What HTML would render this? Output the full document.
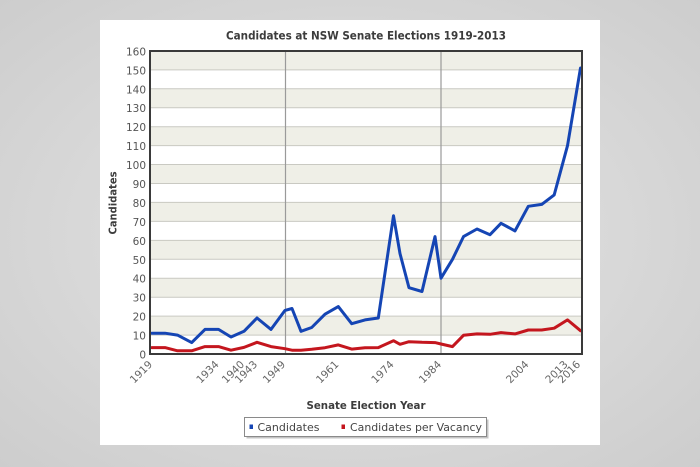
<!DOCTYPE html>
<html>
<head>
<meta charset="utf-8">
<style>
  html,body{margin:0;padding:0;}
  body{width:700px;height:467px;overflow:hidden;
    background:radial-gradient(ellipse at 50% 50%, #e3e3e3 0%, #d8d8d8 55%, #cdcdcd 100%);}
  svg{display:block;}
  text{font-family:"DejaVu Sans","Liberation Sans",sans-serif;}
</style>
</head>
<body>
<svg width="700" height="467" viewBox="0 0 700 467" xmlns="http://www.w3.org/2000/svg">
  <!-- white panel -->
  <rect x="100" y="20" width="500" height="425" fill="#ffffff"/>

  <!-- bands (gray bands) -->
  <g fill="#efefe7">
    <rect x="150" y="50.9" width="432" height="18.94"/>
    <rect x="150" y="88.8" width="432" height="18.94"/>
    <rect x="150" y="126.7" width="432" height="18.94"/>
    <rect x="150" y="164.5" width="432" height="18.94"/>
    <rect x="150" y="202.4" width="432" height="18.94"/>
    <rect x="150" y="240.4" width="432" height="18.94"/>
    <rect x="150" y="278.2" width="432" height="18.94"/>
    <rect x="150" y="316.1" width="432" height="18.94"/>
  </g>

  <!-- horizontal gridlines -->
  <g stroke="#c9c9c2" stroke-width="1">
    <line x1="150" y1="69.9" x2="582" y2="69.9"/>
    <line x1="150" y1="88.8" x2="582" y2="88.8"/>
    <line x1="150" y1="107.7" x2="582" y2="107.7"/>
    <line x1="150" y1="126.7" x2="582" y2="126.7"/>
    <line x1="150" y1="145.6" x2="582" y2="145.6"/>
    <line x1="150" y1="164.5" x2="582" y2="164.5"/>
    <line x1="150" y1="183.5" x2="582" y2="183.5"/>
    <line x1="150" y1="202.4" x2="582" y2="202.4"/>
    <line x1="150" y1="221.4" x2="582" y2="221.4"/>
    <line x1="150" y1="240.4" x2="582" y2="240.4"/>
    <line x1="150" y1="259.3" x2="582" y2="259.3"/>
    <line x1="150" y1="278.2" x2="582" y2="278.2"/>
    <line x1="150" y1="297.2" x2="582" y2="297.2"/>
    <line x1="150" y1="316.1" x2="582" y2="316.1"/>
    <line x1="150" y1="335.1" x2="582" y2="335.1"/>
  </g>

  <!-- vertical plot lines -->
  <g stroke="#9a9a9a" stroke-width="1.2">
    <line x1="285.5" y1="51" x2="285.5" y2="354"/>
    <line x1="441" y1="51" x2="441" y2="354"/>
  </g>

  <!-- series: Candidates per Vacancy (red) -->
  <polyline fill="none" stroke="#c4161e" stroke-width="3" stroke-linejoin="round" stroke-linecap="round"
    points="151.7,347.6 165,347.6 177.5,350.8 191.7,350.8 205,346.6 218.5,346.6 231,350.2 244,347.4 257,342.3 271,346.6 285,348.7 292,350.2 301,350.2 311.7,349.3 325,347.7 338.3,344.9 351.7,349.1 365,347.7 378.3,347.6 393.5,340.7 400,344.3 409,341.7 422,342.3 435,342.6 441,344 452.5,346.6 463.5,335.3 477,333.9 490,334.3 501,332.6 515,333.9 528.3,330 541.7,330 554.2,328.2 567.5,319.9 580.5,330.7"/>

  <!-- series: Candidates (blue) -->
  <polyline fill="none" stroke="#1545b4" stroke-width="3" stroke-linejoin="round" stroke-linecap="round"
    points="151.7,333.2 165,333.2 177.5,335.1 191.7,342.6 205,329.4 218.5,329.4 231,337 244,331.3 257,318 271,329.4 285,310.4 292,308.5 301,331.3 311.7,327.5 325,314.2 338.3,306.6 351.7,323.7 365,319.9 378.3,318 393.5,215.7 400,253.6 409,287.7 422,291.5 435,236.6 441,278.2 452.5,259.3 463.5,236.6 477,229 490,234.7 501,223.3 515,230.9 528.3,206.3 541.7,204.4 554.2,194.9 567.5,145.7 580.5,68"/>

  <!-- plot border -->
  <rect x="150" y="51" width="432" height="303" fill="none" stroke="#3a3a3a" stroke-width="2"/>

  <!-- title -->
  <text x="366" y="39.5" text-anchor="middle" font-size="11.5" font-weight="bold" fill="#3c3c3c" textLength="280" lengthAdjust="spacingAndGlyphs">Candidates at NSW Senate Elections 1919-2013</text>

  <!-- y tick labels -->
  <g font-size="10.5" fill="#555" text-anchor="end">
    <text x="146" y="55.5">160</text>
    <text x="146" y="74.4">150</text>
    <text x="146" y="93.3">140</text>
    <text x="146" y="112.2">130</text>
    <text x="146" y="131.2">120</text>
    <text x="146" y="150.1">110</text>
    <text x="146" y="169">100</text>
    <text x="146" y="188">90</text>
    <text x="146" y="206.9">80</text>
    <text x="146" y="225.9">70</text>
    <text x="146" y="244.9">60</text>
    <text x="146" y="263.8">50</text>
    <text x="146" y="282.7">40</text>
    <text x="146" y="301.7">30</text>
    <text x="146" y="320.6">20</text>
    <text x="146" y="339.6">10</text>
    <text x="146" y="358.5">0</text>
  </g>

  <!-- y axis title -->
  <text transform="translate(116.5,203) rotate(-90)" text-anchor="middle" font-size="11" font-weight="bold" fill="#3c3c3c" textLength="63" lengthAdjust="spacingAndGlyphs">Candidates</text>

  <!-- x tick labels -->
  <g font-size="10.5" fill="#666" text-anchor="end">
    <text transform="translate(153,365) rotate(-45)">1919</text>
    <text transform="translate(219.5,365) rotate(-45)">1934</text>
    <text transform="translate(245,365) rotate(-45)">1940</text>
    <text transform="translate(258,365) rotate(-45)">1943</text>
    <text transform="translate(286,365) rotate(-45)">1949</text>
    <text transform="translate(339.3,365) rotate(-45)">1961</text>
    <text transform="translate(394.5,365) rotate(-45)">1974</text>
    <text transform="translate(442,365) rotate(-45)">1984</text>
    <text transform="translate(529.3,365) rotate(-45)">2004</text>
    <text transform="translate(568.5,365) rotate(-45)">2013</text>
    <text transform="translate(581,365) rotate(-45)">2016</text>
  </g>

  <!-- x axis title -->
  <text x="366" y="409" text-anchor="middle" font-size="11" font-weight="bold" fill="#3c3c3c" textLength="119" lengthAdjust="spacingAndGlyphs">Senate Election Year</text>

  <!-- legend -->
  <rect x="246.5" y="419.5" width="242" height="19" fill="#c4c4c4"/>
  <rect x="244.5" y="417.5" width="242" height="19" fill="#ffffff" stroke="#8a8a8a" stroke-width="1"/>
  <rect x="249.5" y="424.5" width="3.5" height="4.5" fill="#1545b4"/>
  <text x="257.5" y="431" font-size="11" fill="#444" textLength="62" lengthAdjust="spacingAndGlyphs">Candidates</text>
  <rect x="341.5" y="424.5" width="3.5" height="4.5" fill="#c4161e"/>
  <text x="350" y="431" font-size="11" fill="#444" textLength="132" lengthAdjust="spacingAndGlyphs">Candidates per Vacancy</text>
</svg>
</body>
</html>
